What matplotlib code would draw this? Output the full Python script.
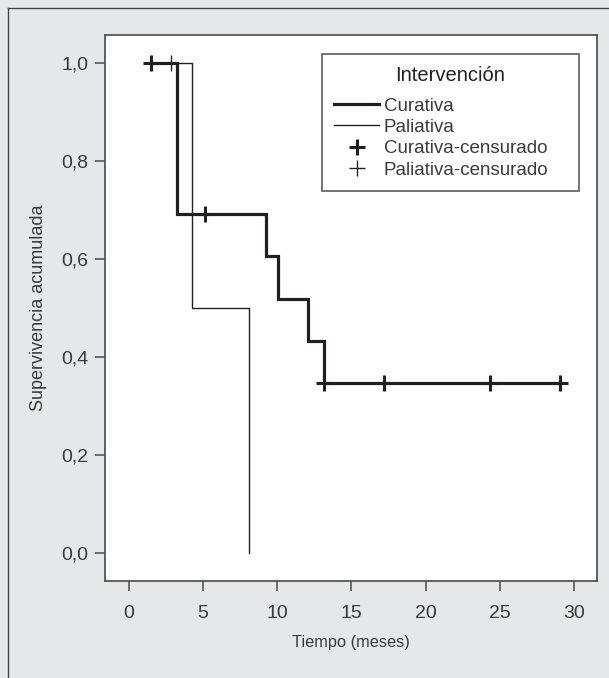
import matplotlib
matplotlib.use("Agg")
import matplotlib.pyplot as plt
from matplotlib.lines import Line2D
import numpy as np

plt.rcParams['font.family'] = ['Liberation Sans', 'DejaVu Sans']

# Data (Kaplan-Meier step functions)
cur_t = [1.5, 3.26, 9.22, 10.02, 12.09, 13.17, 29.06]
cur_s = [1.0, 0.692, 0.606, 0.519, 0.433, 0.346, 0.346]
cur_cens_t = [1.5, 5.12, 13.17, 17.2, 24.37, 29.06]
cur_cens_s = [1.0, 0.692, 0.346, 0.346, 0.346, 0.346]

pal_t = [2.8, 4.23, 8.09, 8.09]
pal_s = [1.0, 0.5, 0.0, 0.0]
pal_cens_t = [2.8]
pal_cens_s = [1.0]

xticks = [0, 5, 10, 15, 20, 25, 30]
yticks = [0.0, 0.2, 0.4, 0.6, 0.8, 1.0]
ytick_labels = ['0,0', '0,2', '0,4', '0,6', '0,8', '1,0']

W, H = 609, 678
BG = '#e6e7e8'
INK = '#231f20'
TXT = '#3a3a3a'

fig = plt.figure(figsize=(W/100, H/100), dpi=100, facecolor=BG)
# outer frame (left & top)
fig.add_artist(Line2D([8/W, 8/W], [0, 1-8/H], transform=fig.transFigure, color='#444444', lw=1.0))
fig.add_artist(Line2D([8/W, 1], [1-8/H, 1-8/H], transform=fig.transFigure, color='#444444', lw=1.0))

ax = fig.add_axes([105/W, 1-581/H, (597-105)/W, (581-35)/H])
ax.set_facecolor('white')

ax.step(cur_t, cur_s, where='post', color=INK, lw=2.3, solid_joinstyle='miter')
ax.step(pal_t, pal_s, where='post', color=INK, lw=1.0)
ax.plot(cur_cens_t, cur_cens_s, ls='none', marker='+', ms=12, mew=2.2, color=INK)
ax.plot(pal_cens_t, pal_cens_s, ls='none', marker='+', ms=12, mew=1.0, color=INK)

ax.set_xlim(-1.62, 31.56)
ax.set_ylim(-0.057, 1.057)
ax.set_xticks(xticks)
ax.set_xticklabels([str(v) for v in xticks])
ax.set_yticks(yticks)
ax.set_yticklabels(ytick_labels)
ax.tick_params(axis='both', direction='out', length=7, width=1.2, color='#555555',
               labelsize=14, labelcolor=TXT)
ax.tick_params(axis='y', pad=5)
ax.tick_params(axis='x', pad=10)
for sp in ax.spines.values():
    sp.set_color('#555555')
    sp.set_linewidth(1.3)

ax.set_xlabel('Tiempo (meses)', fontsize=11.8, color=TXT, labelpad=10)
ax.set_ylabel('Supervivencia acumulada', fontsize=13, color=TXT, labelpad=10)

handles = [
    Line2D([], [], color=INK, lw=2.3),
    Line2D([], [], color=INK, lw=1.0),
    Line2D([], [], color=INK, ls='none', marker='+', ms=12, mew=2.2),
    Line2D([], [], color=INK, ls='none', marker='+', ms=12, mew=1.0),
]
labels = ['Curativa', 'Paliativa', 'Curativa-censurado', 'Paliativa-censurado']
leg = ax.legend(handles, labels, title='Intervención', loc='upper left',
                bbox_to_anchor=(322/W, 1-187/H, 257/W, 133/H), bbox_transform=fig.transFigure,
                mode='expand',
                borderaxespad=0, frameon=True, fancybox=False, fontsize=13.5,
                title_fontsize=14.5, handlelength=2.4, handletextpad=0.25,
                labelspacing=0.22, borderpad=0.65)
leg._legend_box.sep = 9
leg.get_frame().set_edgecolor('#333333')
leg.get_frame().set_linewidth(1.2)
for t in leg.get_texts():
    t.set_color(TXT)
leg.get_title().set_color(INK)

fig.savefig('out.png', dpi=100, facecolor=BG)
